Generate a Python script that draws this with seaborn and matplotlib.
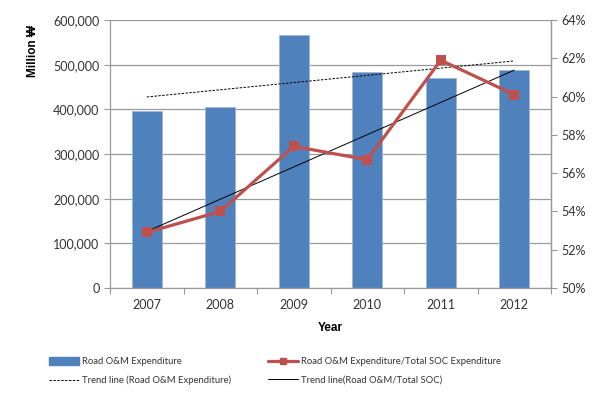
import numpy as np
import pandas as pd
import matplotlib
matplotlib.use("Agg")
import matplotlib.pyplot as plt
import seaborn as sns
from matplotlib.lines import Line2D
from matplotlib.patches import Patch
from matplotlib.ticker import FuncFormatter

years = ["2007", "2008", "2009", "2010", "2011", "2012"]
expenditure = [397000, 404500, 566000, 483500, 469500, 487500]
ratio_pct = [52.9, 54.0, 57.4, 56.7, 61.9, 60.1]

left_ticks = [0, 100000, 200000, 300000, 400000, 500000, 600000]
right_ticks = [50, 52, 54, 56, 58, 60, 62, 64]

sns.set_style("white")
plt.rcParams["font.family"] = ["Lato", "DejaVu Sans"]

BLUE = "#4F81BD"
RED = "#C0504D"
GRID = "#999999"
TXT = "#333333"

fig = plt.figure(figsize=(6, 3.98), dpi=100)
ax = fig.add_axes([110/600, 1-288/398, (551-110)/600, (288-20)/398])

df = pd.DataFrame({"Year": years, "Exp": expenditure, "Ratio": ratio_pct})
sns.barplot(data=df, x="Year", y="Exp", color=BLUE, saturation=1, width=0.41,
            edgecolor="#9DB7DA", linewidth=0.6, ax=ax, zorder=2)

xpos = np.arange(len(years))
# Trend line for expenditure (linear fit)
c1 = np.polyfit(xpos, expenditure, 1)
ax.plot(xpos, np.polyval(c1, xpos), color="black", lw=0.7, ls=(0, (2.5, 1.5)), zorder=4)

ax.set_ylim(0, 600000)
ax.set_xlim(-0.5, len(years) - 0.5)
ax.set_yticks(left_ticks)
ax.yaxis.set_major_formatter(FuncFormatter(lambda v, p: f"{int(v):,}"))
ax.grid(axis="y", color=GRID, lw=0.9, zorder=0)
ax.set_axisbelow(True)
ax.set_ylabel("Million \u20a9", fontsize=8.5, fontweight="bold", color="black",
              family=["Liberation Sans", "DejaVu Sans"])
ax.yaxis.set_label_coords(-0.161, 0.885)
ax.set_xlabel("Year", fontsize=8.5, fontweight="bold", color="black", labelpad=8,
              family=["Liberation Sans", "DejaVu Sans"])
ax.tick_params(axis="y", labelsize=9, colors=TXT, length=4, width=0.8, color=GRID, left=True)
ax.tick_params(axis="x", labelsize=9, colors=TXT, length=0, pad=8)
# minor ticks at category boundaries
ax.set_xticks(np.arange(-0.5, len(years), 1.0), minor=True)
ax.tick_params(axis="x", which="minor", length=4, width=0.8, color=GRID, bottom=True)
ax.spines["top"].set_visible(False)
for s in ["left", "bottom", "right"]:
    ax.spines[s].set_color(GRID)
    ax.spines[s].set_linewidth(0.9)

ax2 = ax.twinx()
sns.lineplot(x=xpos, y=ratio_pct, ax=ax2, color=RED, lw=2.3, marker="s",
             markersize=7.5, markeredgewidth=0, zorder=5)
c2 = np.polyfit(xpos, ratio_pct, 1)
ax2.plot(xpos, np.polyval(c2, xpos), color="black", lw=0.7, zorder=4)
ax2.set_ylim(50, 64)
ax2.set_yticks(right_ticks)
ax2.yaxis.set_major_formatter(FuncFormatter(lambda v, p: f"{int(v)}%"))
ax2.tick_params(axis="y", labelsize=9, colors=TXT, length=4, width=0.8, color=GRID, right=True)
ax2.set_ylabel("")
for s in ["top", "left", "bottom"]:
    ax2.spines[s].set_visible(False)
ax2.spines["right"].set_color(GRID)
ax2.spines["right"].set_linewidth(0.9)

fs = 6.8
h1 = [Patch(facecolor=BLUE, edgecolor=BLUE),
      Line2D([], [], color="black", lw=0.7, ls=(0, (2.5, 1.5)))]
l1 = ["Road O&M Expenditure", "Trend line (Road O&M Expenditure)"]
h2 = [Line2D([], [], color=RED, lw=2.3, marker="s", markersize=5),
      Line2D([], [], color="black", lw=0.7)]
l2 = ["Road O&M Expenditure/Total SOC Expenditure", "Trend line(Road O&M/Total SOC)"]
kw = dict(frameon=False, fontsize=fs, handlelength=3.2, handletextpad=0.3,
          labelspacing=1.0, loc="upper left", borderaxespad=0, borderpad=0,
          handleheight=0.9)
leg1 = fig.legend(h1, l1, bbox_to_anchor=(49/600, 1-357/398), **kw)
leg2 = fig.legend(h2, l2, bbox_to_anchor=(268/600, 1-357/398), **kw)
for lg in (leg1, leg2):
    for t in lg.get_texts():
        t.set_color(TXT)

fig.savefig("out.png", dpi=100)
